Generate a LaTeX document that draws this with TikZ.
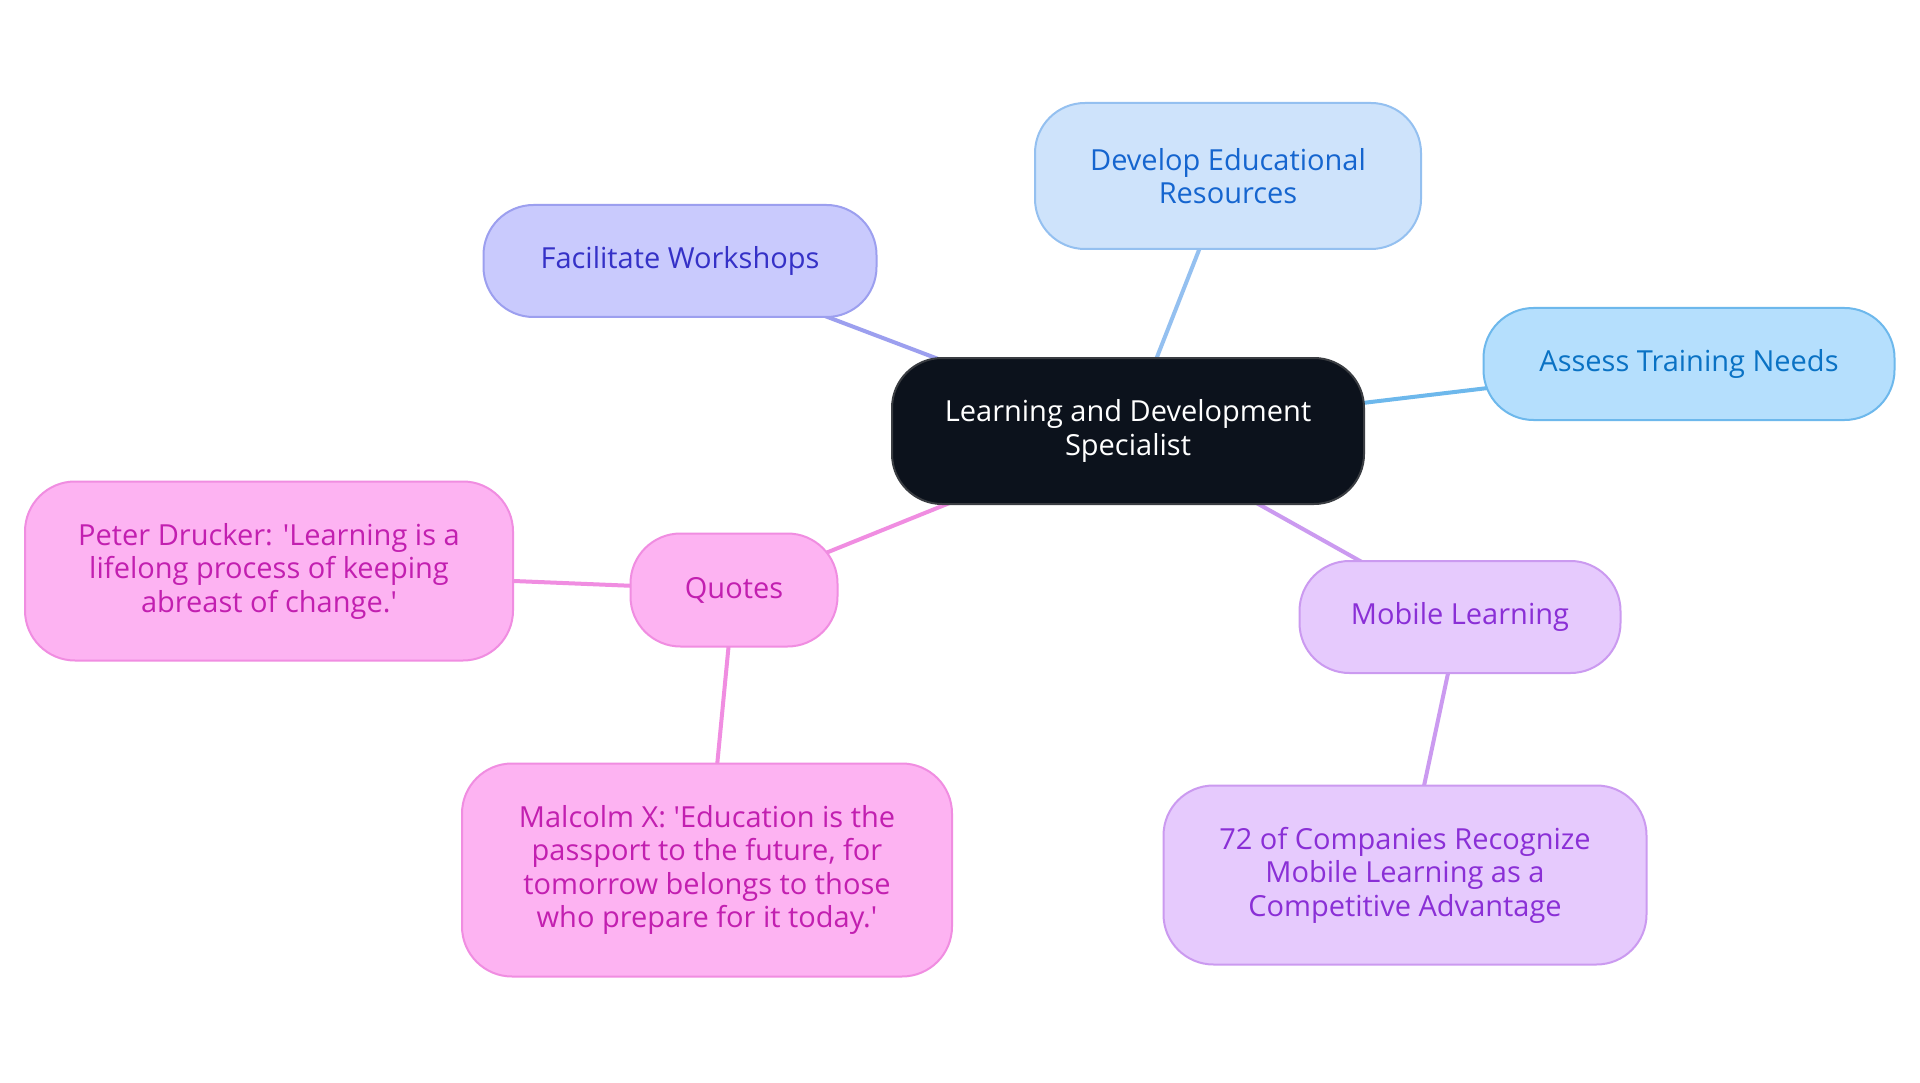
\documentclass[tikz,border=0pt]{standalone}
\usepackage{fontspec}
\setmainfont{Open Sans}[Ligatures=TeXOff]
\usetikzlibrary{backgrounds}
\definecolor{cfill}{HTML}{0C121C}
\definecolor{cdraw}{HTML}{3A3D42}
\definecolor{dfill}{HTML}{CEE3FB}
\definecolor{ddraw}{HTML}{94C0F0}
\definecolor{dtext}{HTML}{1565CF}
\definecolor{ffill}{HTML}{C9CAFD}
\definecolor{fdraw}{HTML}{9C9FEF}
\definecolor{ftext}{HTML}{3531C7}
\definecolor{afill}{HTML}{B5DFFD}
\definecolor{adraw}{HTML}{6DB8EC}
\definecolor{atext}{HTML}{0A72C4}
\definecolor{pfill}{HTML}{FDB3F2}
\definecolor{pdraw}{HTML}{F08DE1}
\definecolor{ptext}{HTML}{C21FB0}
\definecolor{mfill}{HTML}{E6CAFD}
\definecolor{mdraw}{HTML}{CB9AF0}
\definecolor{mtext}{HTML}{8A2FD6}
\tikzset{
  x=1pt, y=-1pt,
  box/.style={rounded corners=50pt, line width=2pt, align=center, inner sep=0pt,
    font=\fontsize{29}{33.5}\selectfont},
  cbox/.style={box, fill=cfill, draw=cdraw, text=white},
  dbox/.style={box, fill=dfill, draw=ddraw, text=dtext},
  fbox/.style={box, fill=ffill, draw=fdraw, text=ftext},
  abox/.style={box, fill=afill, draw=adraw, text=atext},
  pbox/.style={box, fill=pfill, draw=pdraw, text=ptext},
  mbox/.style={box, fill=mfill, draw=mdraw, text=mtext},
  edge/.style={line width=4pt}
}
\begin{document}
\begin{tikzpicture}
\useasboundingbox (0,0) rectangle (1920,1083);
\node[cbox, minimum width=472pt, minimum height=146pt] (c) at (1128,431) {Learning and Development\\Specialist};
\node[dbox, minimum width=386pt, minimum height=146pt] (d) at (1228,176) {Develop Educational\\Resources};
\node[fbox, minimum width=393pt, minimum height=112pt] (f) at (680,261) {Facilitate Workshops};
\node[abox, minimum width=411pt, minimum height=112pt] (a) at (1689,364) {Assess Training Needs};
\node[pbox, minimum width=207pt, minimum height=113pt] (q) at (734,590) {Quotes};
\node[pbox, minimum width=488pt, minimum height=179pt] (p) at (269,571) {Peter Drucker: 'Learning is a\\lifelong process of keeping\\abreast of change.'};
\node[pbox, minimum width=490pt, minimum height=213pt] (x) at (707,870) {Malcolm X: 'Education is the\\passport to the future, for\\tomorrow belongs to those\\who prepare for it today.'};
\node[mbox, minimum width=321pt, minimum height=112pt] (m) at (1460,617) {Mobile Learning};
\node[mbox, minimum width=483pt, minimum height=179pt] (s) at (1405,875) {72 of Companies Recognize\\Mobile Learning as a\\Competitive Advantage};
\begin{scope}[on background layer]
\fill[white] (0,0) rectangle (1920,1083);
\draw[edge, draw=fdraw] (c.center) -- (f.center);
\draw[edge, draw=ddraw] (c.center) -- (d.center);
\draw[edge, draw=adraw] (c.center) -- (a.center);
\draw[edge, draw=pdraw] (c.center) -- (q.center);
\draw[edge, draw=mdraw] (c.center) -- (m.center);
\draw[edge, draw=pdraw] (q.center) -- (p.center);
\draw[edge, draw=pdraw] (q.center) -- (x.center);
\draw[edge, draw=mdraw] (m.center) -- (s.center);
\end{scope}
\end{tikzpicture}
\end{document}
